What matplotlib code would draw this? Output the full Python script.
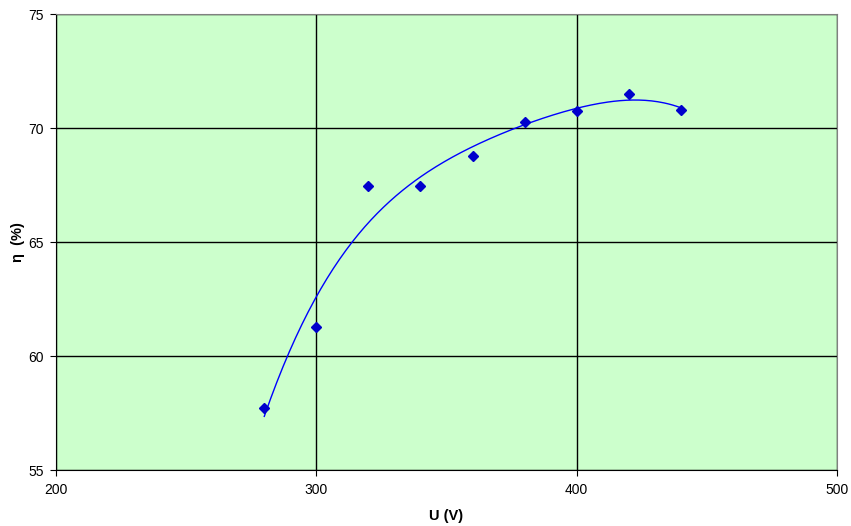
import numpy as np
import matplotlib.pyplot as plt

plt.rcParams['font.family'] = ['Liberation Sans', 'DejaVu Sans']

# measured points
voltage = [280, 300, 320, 340, 360, 380, 400, 420, 440]
efficiency = [57.71, 61.26, 67.46, 67.46, 68.77, 70.28, 70.75, 71.48, 70.78]

# polynomial trendline (like the spreadsheet one)
coef = np.polyfit(voltage, efficiency, 4)
xs = np.linspace(min(voltage), max(voltage), 200)

fig = plt.figure(figsize=(8.51, 5.26), dpi=100)
ax = fig.add_axes([56 / 851, 1 - 470 / 526, 781 / 851, 456 / 526])
ax.set_facecolor('#CCFFCC')

ax.plot(xs, np.polyval(coef, xs), color='#0000FF', lw=1, zorder=3)
ax.plot(voltage, efficiency, 'D', color='#0000CC', ms=5.5, zorder=4)

ax.set_xlim(200, 500)
ax.set_ylim(55, 75)
ax.set_xticks([200, 300, 400, 500])
ax.set_yticks([55, 60, 65, 70, 75])
ax.grid(True, color='black', lw=1)
ax.set_axisbelow(True)
ax.tick_params(labelsize=10, length=4, color='black', pad=5)
for s in ['top', 'right']:
    ax.spines[s].set_color('#808080')
for s in ['left', 'bottom']:
    ax.spines[s].set_color('black')

ax.set_xlabel('U (V)', fontsize=10.5, fontweight='bold', labelpad=9)
ax.set_ylabel('η  (%)', fontsize=10.5, fontweight='bold', labelpad=2)

fig.savefig('out.png')
